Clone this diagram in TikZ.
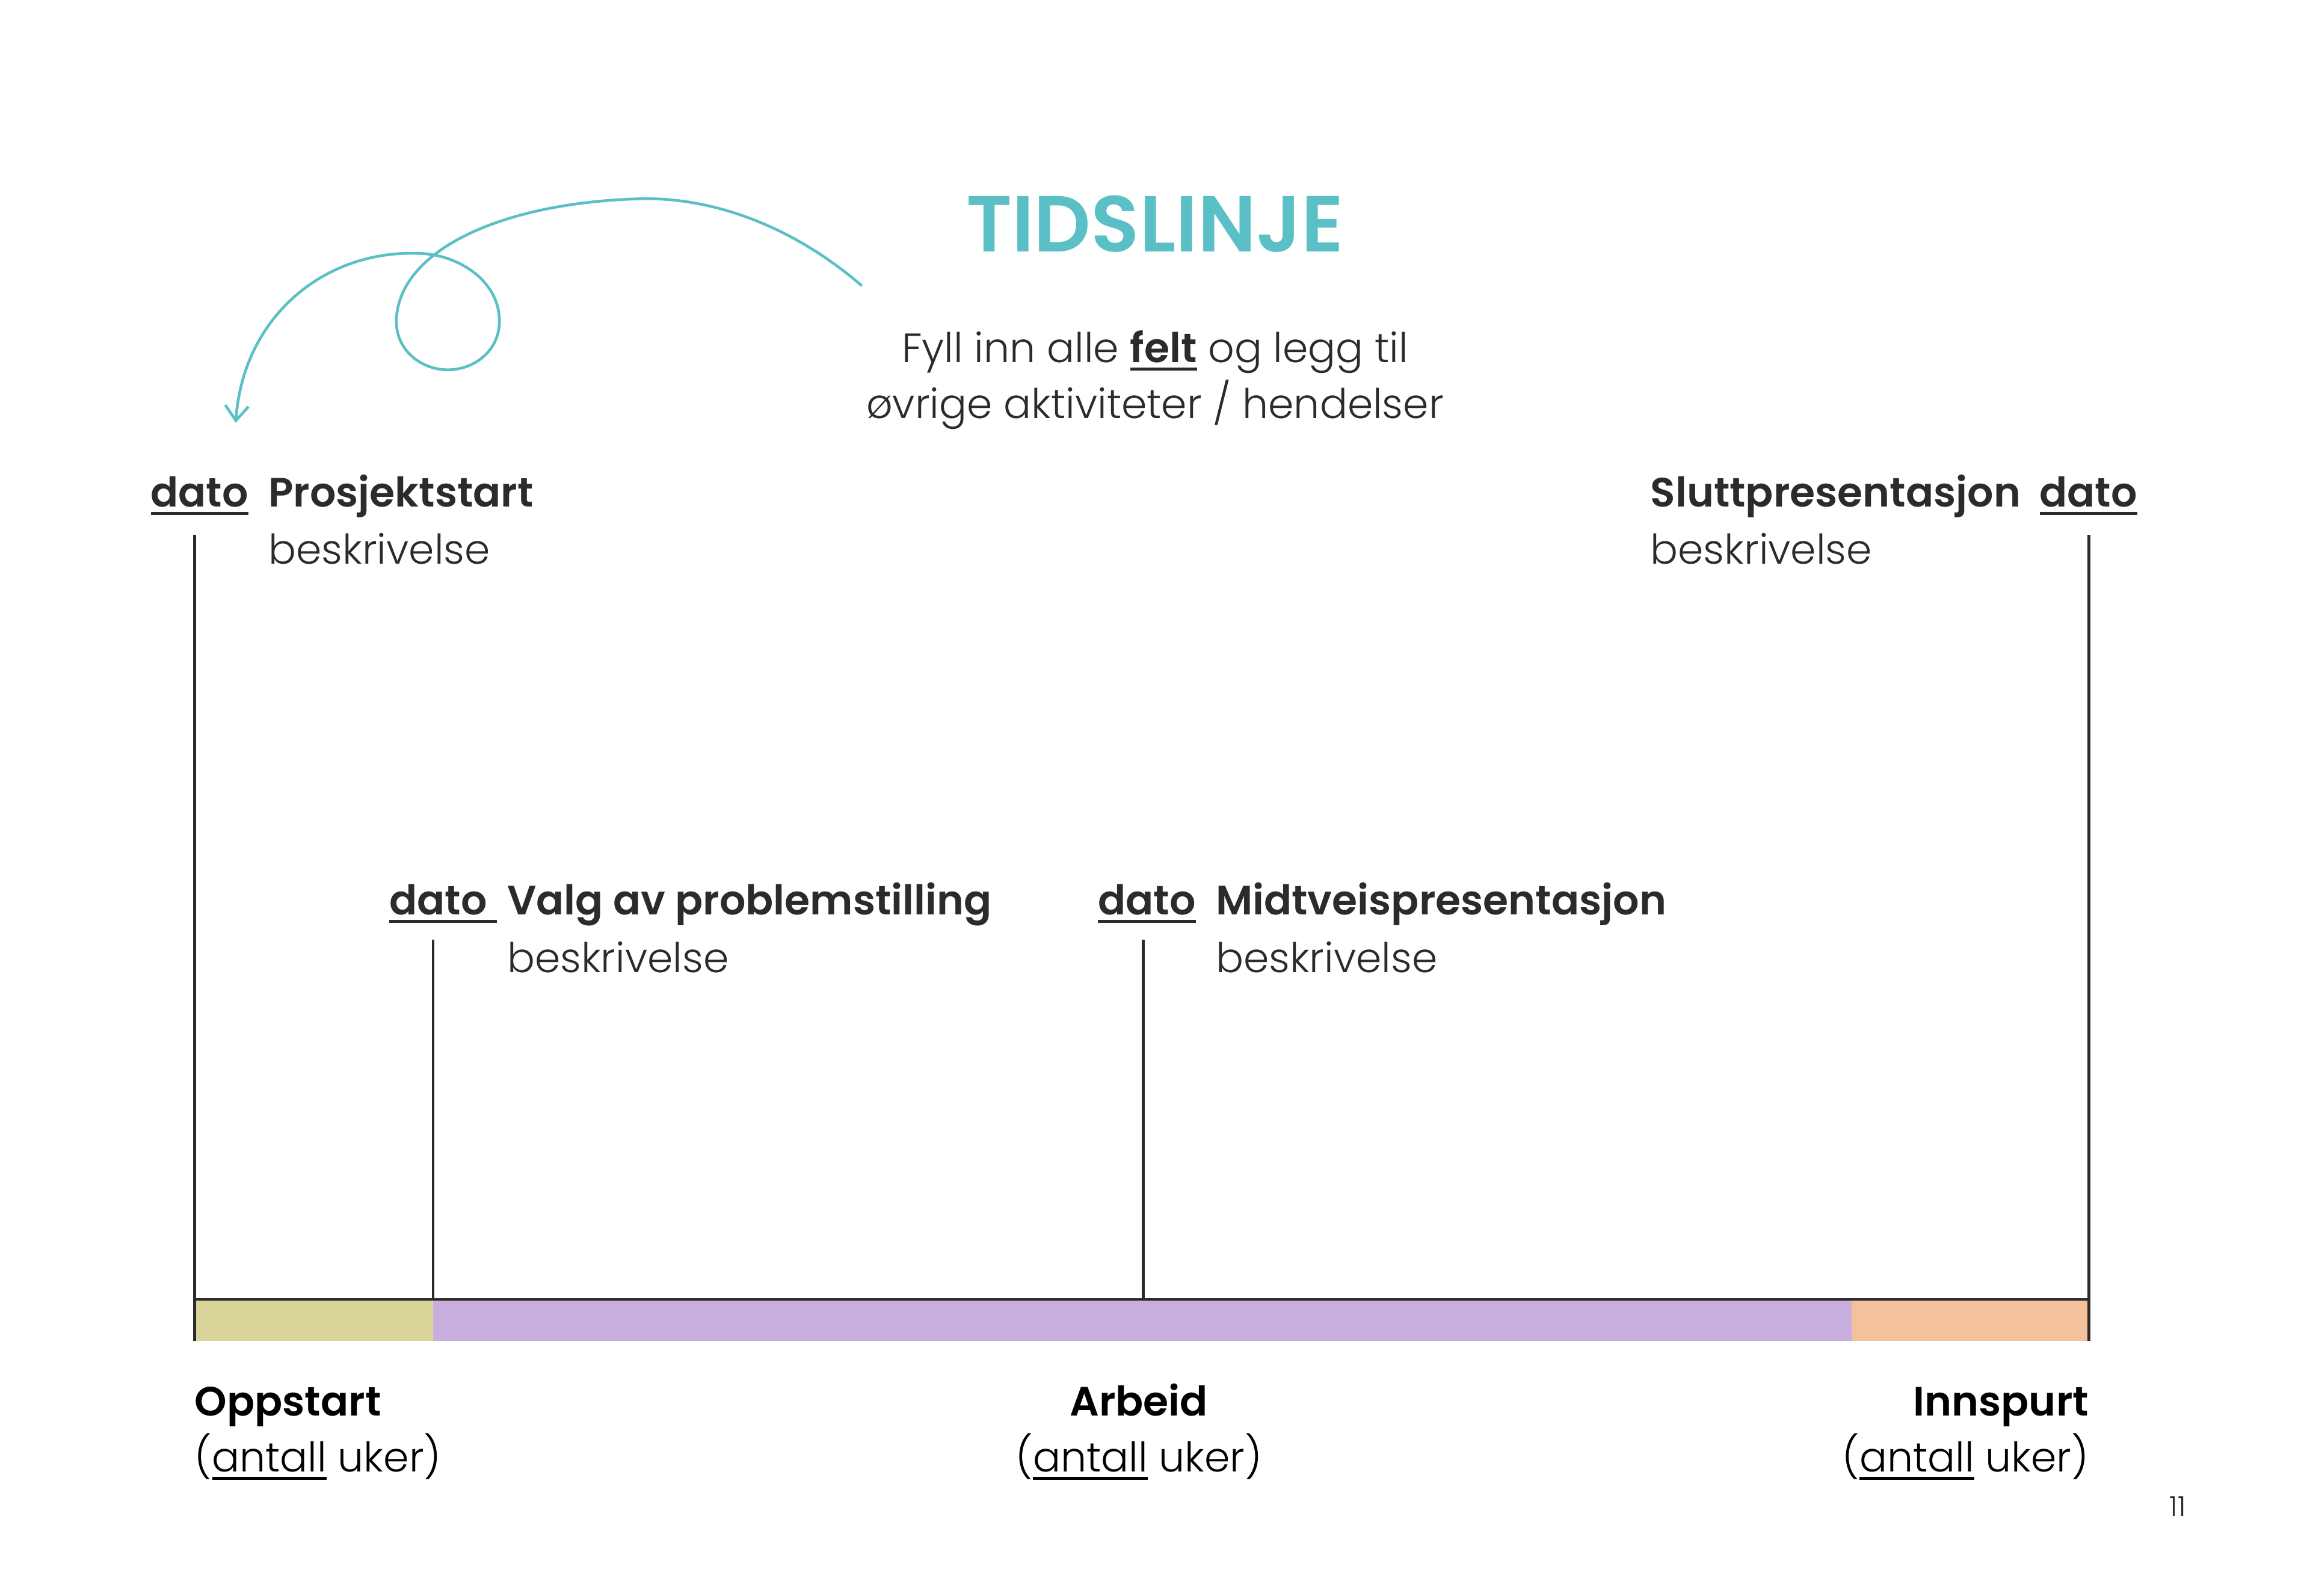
\documentclass[tikz,border=0pt]{standalone}
\usepackage{fontspec}
\setmainfont{Poppins}[UprightFont={* Light}, BoldFont={* SemiBold}]
\usetikzlibrary{arrows.meta}
\definecolor{tealc}{HTML}{5BC0C6}
\definecolor{ink}{HTML}{2B2B2B}
\definecolor{cOpp}{HTML}{D9D498}
\definecolor{cArb}{HTML}{C8AEDF}
\definecolor{cInn}{HTML}{F5C19C}
\newcommand\myul[1]{\setbox0=\hbox{#1}\rlap{\rule[-0.2em]{\wd0}{0.075em}}\box0\relax}
\tikzset{
  lbl/.style={inner sep=0pt, font=\fontsize{19.4}{23}\selectfont\bfseries, text=ink},
  desc/.style={inner sep=0pt, font=\fontsize{19.4}{23}\selectfont, text=ink},
  bot/.style={inner sep=0pt, font=\fontsize{19.4}{23}\selectfont\bfseries, text=black},
  botd/.style={inner sep=0pt, font=\fontsize{19.4}{23}\selectfont, text=black},
  tick/.style={draw=ink, line width=1.4pt},
}
\begin{document}
\begin{tikzpicture}[x=0.0245cm,y=-0.0245cm]
\useasboundingbox (0,0) rectangle (1568,1083);
% title
\node[anchor=base, inner sep=0pt, text=tealc, font=\fontsize{37.6}{42}\selectfont\bfseries] (title) at (784,171) {TIDSLINJE};
\node[desc, anchor=base] (sub1) at (784,246) {Fyll inn alle \textbf{\myul{felt}} og legg til};
\node[desc, anchor=base] (sub2) at (784,284) {øvrige aktiviteter / hendelser};
% arrow
\coordinate (as) at (585,194);
\coordinate (ae) at (160,287);
\draw[tealc, line width=1.3pt, -{Straight Barb[length=7pt,width=11pt]}]
  (as) .. controls (540,155) and (485,133) .. (432,135)
  .. controls (340,138) and (270,170) .. (269,218)
  .. controls (269,238) and (286,251) .. (304,251)
  .. controls (322,251) and (339,238) .. (339,218)
  .. controls (339,190) and (310,172) .. (283,172)
  .. controls (220,170) and (165,215) .. (ae);
% milestone labels
\node[lbl, anchor=base west] (d1) at (102,344) {\myul{dato}};
\node[lbl, anchor=base west] (t1) at (182,344) {Prosjektstart};
\node[desc, anchor=base west] (b1) at (182,383) {beskrivelse};
\node[lbl, anchor=base west] (t4) at (1120,344) {Sluttpresentasjon};
\node[lbl, anchor=base east] (d4) at (1451,344) {\myul{dato}};
\node[desc, anchor=base west] (b4) at (1120,383) {beskrivelse};
\node[lbl, anchor=base west] (d2) at (264,621) {\myul{dato\ }};
\node[lbl, anchor=base west] (t2) at (344,621) {Valg av problemstilling};
\node[desc, anchor=base west] (b2) at (344,660) {beskrivelse};
\node[lbl, anchor=base west] (d3) at (745,621) {\myul{dato}};
\node[lbl, anchor=base west] (t3) at (825,621) {Midtveispresentasjon};
\node[desc, anchor=base west] (b3) at (825,660) {beskrivelse};
% bar
\fill[cOpp] (132,882) rectangle (294,910);
\fill[cArb] (294,882) rectangle (1257,910);
\fill[cInn] (1257,882) rectangle (1418,910);
\coordinate (L1) at (132,363); \coordinate (L1b) at (132,910);
\coordinate (L4) at (1418,363); \coordinate (L4b) at (1418,910);
\coordinate (L2) at (294,638); \coordinate (L2b) at (294,882);
\coordinate (L3) at (776,638); \coordinate (L3b) at (776,882);
\draw[tick] (L1) -- (L1b);
\draw[tick] (L4) -- (L4b);
\draw[tick] (L2) -- (L2b);
\draw[tick] (L3) -- (L3b);
\draw[tick] (L1b|-L2b) -- (L4b|-L2b);
% bottom labels
\node[bot, anchor=base west] (p1) at (132,961) {Oppstart};
\node[botd, anchor=base west] (u1) at (132,999) {(\myul{antall} uker)};
\node[bot, anchor=base] (p2) at (773,961) {Arbeid};
\node[botd, anchor=base] (u2) at (773,999) {(\myul{antall} uker)};
\node[bot, anchor=base east] (p3) at (1418,961) {Innspurt};
\node[botd, anchor=base east] (u3) at (1418,999) {(\myul{antall} uker)};
\node[anchor=base east, inner sep=0pt, text=ink, font=\fontsize{13}{15}\selectfont] (pg) at (1484,1029) {11};
\end{tikzpicture}
\end{document}
